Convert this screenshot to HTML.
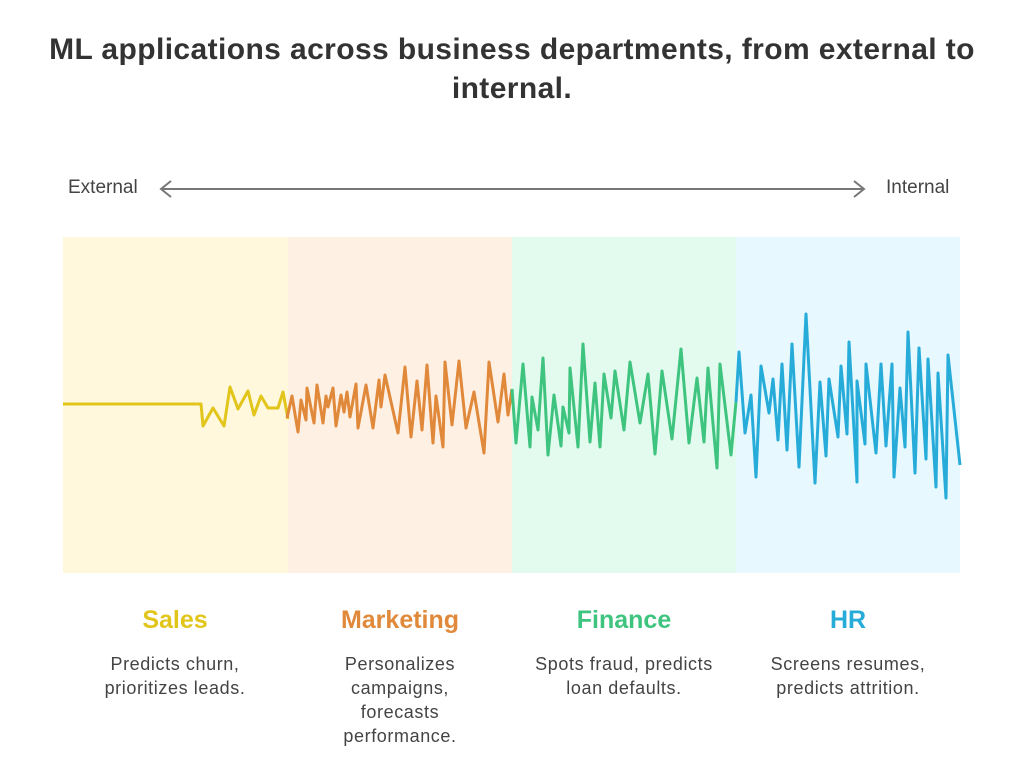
<!DOCTYPE html>
<html><head><meta charset="utf-8"><style>
body{margin:0;width:1024px;height:781px;background:#fff;font-family:"Liberation Sans",sans-serif;color:#333;position:relative;overflow:hidden}
.t{position:absolute;left:0;width:1024px;text-align:center;top:30px;font-size:30px;letter-spacing:0.4px;font-weight:bold;line-height:39px;color:#333}
.lab{position:absolute;font-size:19px;color:#444}
.h{position:absolute;width:224px;text-align:center;top:606px;font-size:25px;font-weight:bold}
.d{position:absolute;width:224px;text-align:center;top:652px;font-size:18px;letter-spacing:0.6px;line-height:24px;color:#444}
</style></head><body>
<div class="t">ML applications across business departments, from external to<br>internal.</div>
<div class="lab" style="left:68px;top:177px">External</div>
<div class="lab" style="left:886px;top:177px">Internal</div>
<svg width="1024" height="781" style="position:absolute;left:0;top:0">
<g stroke="#777" stroke-width="2" fill="none">
<line x1="161" y1="189" x2="864" y2="189"/><polyline points="171,181 161,189 171,197"/><polyline points="854,181 864,189 854,197"/></g>
<rect x="63" y="237" width="225" height="336" fill="#fff8dc"/>
<rect x="288" y="237" width="224" height="336" fill="#fff0e4"/>
<rect x="512" y="237" width="224" height="336" fill="#e3fbef"/>
<rect x="736" y="237" width="224" height="336" fill="#e7f8ff"/>
<g id="lines"></g>
</svg>
<div class="h" style="left:63px;color:#e2c51a">Sales</div>
<div class="h" style="left:288px;color:#e0893a">Marketing</div>
<div class="h" style="left:512px;color:#3fc47f">Finance</div>
<div class="h" style="left:736px;color:#27acd9">HR</div>
<div class="d" style="left:63px">Predicts churn,<br>prioritizes leads.</div>
<div class="d" style="left:288px">Personalizes<br>campaigns,<br>forecasts<br>performance.</div>
<div class="d" style="left:512px">Spots fraud, predicts<br>loan defaults.</div>
<div class="d" style="left:736px">Screens resumes,<br>predicts attrition.</div>
<script>
const salesT=[0,138,140,150,161,167,175,185,191,198,205,215,220,225];
const salesV=[0,0,-22,-4,-22,17,-5,13,-11,8,-4,-4,12,-15];
const mktT=[224,229,235,238,243,244,251,254,260,263,265,270,273,278,281,284,287,293,295,303,310,316,318,322,335,342,348,354,359,364,370,373,380,382,389,396,403,411,421,426,435,441,445,449];
const mktV=[-14,8,-28,4,-16,16,-19,19,-19,8,-3,16,-22,9,-8,12,-13,20,-24,19,-24,24,-3,29,-29,37,-33,23,-26,39,-39,8,-43,42,-21,43,-24,12,-49,42,-18,30,-11,15];
const finT=[449,453,460,467,469,475,480,485,491,498,500,506,507,515,520,527,532,537,541,548,552,561,567,577,585,592,599,609,618,626,634,641,645,654,657,668,673];
const finV=[15,-39,40,-43,7,-26,46,-51,9,-42,-3,-29,36,-43,60,-38,21,-43,30,-14,33,-26,42,-19,30,-50,33,-35,55,-39,26,-38,36,-64,40,-51,2];
const hrT=[673,676,682,688,693,698,706,710,715,719,724,729,736,743,752,757,763,766,775,778,784,786,794,794,802,803,813,818,823,829,831,837,842,845,852,856,863,865,873,875,883,885,897];
const hrV=[2,52,-29,9,-73,38,-9,25,-36,40,-46,60,-63,90,-79,22,-52,25,-33,38,-30,62,-78,23,-40,40,-49,40,-42,40,-73,16,-43,72,-69,56,-55,45,-83,31,-94,49,-61];
const x=t=>63+t, y=v=>404-v;
const g=document.getElementById('lines');
function draw(T,V,c,name){const p=document.createElementNS('http://www.w3.org/2000/svg','polyline');
p.setAttribute('points',T.map((t,i)=>x(t)+','+y(V[i])).join(' '));
p.setAttribute('fill','none');p.setAttribute('stroke',c);p.setAttribute('stroke-width','3');p.setAttribute('stroke-linejoin','round');


g.appendChild(p);}
draw(salesT,salesV,'#e2c51a','sales-line');
draw(mktT,mktV,'#e0893a','marketing-line');
draw(finT,finV,'#3fc47f','finance-line');
draw(hrT,hrV,'#27acd9','hr-line');
</script>
</body></html>
